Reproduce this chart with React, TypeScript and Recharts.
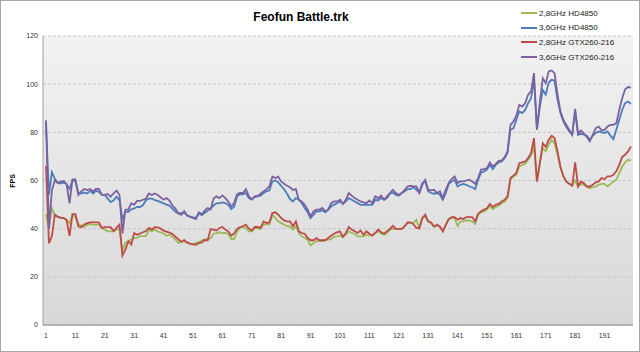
import React from 'react';
import { LineChart, Line, XAxis, YAxis, CartesianGrid, Label } from 'recharts';

// frame numbers 1..200
const FRAMES = Array.from({ length: 200 }, (_, i) => i + 1);
const Y_TICKS = [0, 20, 40, 60, 80, 100, 120];

const HD4850_28 = [
  46, 40, 48.5, 45.4, 44.8, 44.6, 44.3, 43.6, 42.3, 45.4, 45, 42, 41.3, 40.8, 41.6, 42, 41.6, 41.6, 41.6, 40.3,
  39.6, 38.9, 38.9, 38.9, 39.6, 39.8, 31, 34.1, 34.8, 35.5, 36.2, 36.2, 36.9, 36.9, 36.9, 39.6, 38.9, 39.6, 38.9, 38.5,
  38, 37.1, 37.5, 36.6, 35.5, 34.1, 34.4, 34.8, 34.1, 33.7, 33.4, 34.1, 34.4, 35.2, 35.5, 35.5, 36, 37.9, 38.2, 38.5,
  38.2, 38.2, 37.9, 35.7, 35.7, 38.9, 40.3, 40.7, 40.3, 38.9, 38.9, 40.3, 40, 39.9, 41.7, 41.9, 41.7, 45.8, 44.4, 43,
  42.3, 41.7, 41, 41, 39.6, 41, 38.2, 36.8, 36.1, 35.5, 33, 34.1, 34.8, 34.8, 34.8, 35.2, 35.5, 35.7, 36.6, 36.8,
  37.1, 36.6, 37.5, 38.9, 38.2, 37.9, 36.8, 36.8, 36.8, 37.5, 37.1, 37.5, 38.2, 38.9, 37.9, 37.5, 38.2, 39.6, 39.9, 39.9,
  39.9, 39.9, 41, 42.3, 42.3, 42.3, 43.7, 40.2, 44.4, 45.1, 43, 42.3, 40.9, 41.2, 40.7, 38.9, 41.6, 44, 44.4, 44.4,
  41.2, 43, 43, 43.4, 43.4, 43, 42, 45.8, 46.8, 47.2, 47.9, 49.3, 48.1, 49, 49.5, 50.6, 51.3, 52.7, 60.3, 61.7,
  62.4, 65.8, 66.5, 66.9, 68.6, 70.3, 74.1, 59.6, 67.2, 73.4, 72.1, 74.8, 76.9, 75.5, 70.7, 65.1, 61.7, 59.6, 58.6, 57.8,
  60, 57.5, 58.6, 58.2, 57.3, 56.8, 57.3, 57.5, 58.2, 58.6, 58.6, 57.5, 58.6, 59.6, 60.3, 63.1, 65.8, 67.5, 68.6, 68.3,
];

const HD4850_36 = [
  84, 54, 63.5, 60.7, 59, 58.7, 59.3, 58.4, 56.6, 60, 59.7, 55, 54.6, 55, 54.6, 55.7, 54.6, 55.7, 55.3, 54,
  54, 52.5, 51, 51.8, 53.3, 51.8, 44, 47, 47, 48, 48.4, 49, 49, 49.8, 51.8, 52.5, 52.5, 51.8, 51.5, 51,
  50.5, 50, 49.6, 48.3, 47, 46.4, 46.4, 46.6, 45.6, 44.9, 44.6, 44.6, 46.3, 45.6, 46.6, 47.4, 48.4, 49.6, 50.5, 50.6,
  50.9, 50.6, 49.9, 48.1, 49.2, 53.4, 54.3, 54.3, 54.8, 52.7, 52, 53.1, 53.4, 53.7, 54.8, 55.5, 55.9, 59.6, 60, 59.2,
  57.8, 56.4, 54.5, 52.3, 51.3, 52.7, 52, 50.6, 48.6, 46.8, 44.4, 45.8, 47.2, 47.2, 47.6, 46.8, 47.9, 49.2, 49.9, 50.6,
  51.3, 50.3, 51.3, 52.7, 52, 51.3, 50.6, 49.9, 49.9, 49.9, 49.9, 49.9, 52, 51.7, 52.7, 52, 52.7, 54.5, 55, 54,
  53.7, 54.8, 55.5, 56.4, 56.4, 57.2, 56.1, 55, 58.9, 59.6, 55.5, 54.8, 54.5, 54.8, 54.1, 52, 54.8, 58.6, 59.6, 60.3,
  57.5, 58.2, 58.6, 58.2, 57.5, 57.2, 56.4, 60.3, 63.3, 63.8, 64.5, 66.5, 64.7, 66.5, 67.5, 67.9, 69.3, 71.4, 81.1, 81.7,
  85.2, 88.7, 88, 89.3, 92.1, 94.2, 102, 81.1, 90.7, 97.6, 95.6, 100.7, 101.8, 101.5, 93.5, 88, 84.5, 82.2, 80.4, 79,
  88.7, 79, 79.4, 79, 78.6, 76.9, 78.6, 79.7, 80.4, 80, 79.7, 80.4, 78.6, 77.2, 81.1, 85.2, 89.3, 92.1, 92.8, 91.8,
];

const GTX260_28 = [
  66, 34, 36.8, 45.8, 45, 44.5, 44.5, 43.6, 37, 46, 46, 41, 40.6, 41.7, 42.3, 42.6, 42.6, 42.6, 42.6, 40.3,
  40.6, 40.6, 40.6, 39, 40.3, 41.7, 28.8, 31.3, 34.8, 33.4, 38.2, 37.5, 38, 38.5, 39, 40.3, 39.6, 40.6, 40.5, 40,
  39.2, 38.8, 38.4, 37.8, 36.7, 35.6, 34.6, 35.3, 34.3, 33.8, 33.6, 33.3, 34, 34.3, 35.3, 35.2, 39.8, 39.6, 39.2, 40.3,
  40.7, 39.6, 38.9, 37.1, 38, 39.9, 40.7, 41, 41.7, 40, 39.2, 40.7, 40.7, 40.3, 43, 42.3, 42.6, 46.5, 46.8, 45.8,
  44.4, 43.4, 43, 43, 41, 43, 38.9, 38.2, 37.9, 36.1, 35.2, 35.2, 36.1, 35.2, 35.2, 35.2, 36.1, 37.1, 37.9, 38.5,
  38.9, 36.6, 38.2, 40.7, 39.6, 38.9, 38.2, 39.2, 37.5, 38.9, 37.9, 37.1, 38.2, 39.6, 38.5, 37.9, 38.9, 39.9, 41.2, 39.9,
  39.9, 39.9, 41, 42.6, 42.6, 41.9, 40.3, 40.2, 44.4, 45.8, 43, 42.6, 40.9, 41.6, 40.9, 38.9, 41.6, 44, 44.8, 44.8,
  43.7, 44.4, 44, 44.8, 44.8, 44.8, 43, 46.2, 47.2, 47.9, 48.5, 50.3, 49, 49.9, 50.3, 51.3, 52, 53.4, 61, 62,
  63.1, 67.2, 67.5, 67.9, 69.3, 71.4, 77.6, 59.6, 67.2, 75.5, 73.9, 76.9, 78.6, 77.6, 72.1, 65.8, 61.7, 59.6, 58.6, 57.8,
  67.5, 57.5, 59.6, 58.9, 57.5, 57.5, 58.2, 59.2, 59.6, 61, 60.6, 61.7, 61.7, 62.4, 63.8, 66.5, 69.7, 70.7, 72.1, 74.1,
];

const GTX260_36 = [
  85, 40, 56, 60, 59, 59.5, 59.8, 58.5, 50.5, 60.5, 60.5, 54, 55.5, 56.5, 56, 56.5, 55.5, 56.5, 56.5, 54,
  54, 54.4, 53.3, 54.7, 55.8, 54, 38, 47.8, 48, 50.5, 50, 51.5, 51.5, 52, 52.5, 54.6, 54, 54.6, 54, 53,
  52, 52.7, 51.7, 49.6, 48.3, 46.4, 45.7, 47.3, 45.5, 45, 44.5, 44, 46.8, 46, 47.5, 48.6, 48, 52.5, 53.4, 52.7,
  53.8, 52.7, 51.3, 49.2, 50.6, 54.3, 54.8, 54.8, 56.4, 53.4, 52.3, 53.4, 53.6, 54.5, 55.4, 56.4, 57.5, 61.6, 61, 61.6,
  59.6, 58.6, 57.8, 57.2, 56.1, 56.4, 52, 51.3, 49.9, 47.9, 45.1, 47.2, 47.9, 47.9, 48.6, 47.2, 47.9, 50.6, 51.3, 51.3,
  52, 50.3, 52, 54.8, 53.7, 52.7, 52, 51.3, 50.9, 50.6, 51.7, 50.6, 53.4, 52.7, 53.7, 52, 53.4, 54.8, 56.1, 54.8,
  54, 54.8, 56.1, 57.5, 57.8, 57.5, 57.5, 54.8, 58.2, 60.3, 56.2, 55.9, 56.2, 54.8, 55.5, 52.7, 56.2, 59, 60.6, 61.7,
  59, 59.6, 59.6, 60, 60.3, 59.6, 58.6, 61, 64.5, 64.7, 65.1, 67.5, 65.8, 66.9, 68.2, 68.3, 69.7, 72.1, 83.1, 84.5,
  86.9, 91.4, 90.7, 92.1, 95.6, 97, 104.6, 81.1, 92.8, 102.5, 100.4, 105.3, 105.7, 104.6, 95.6, 88.7, 85.2, 83.1, 81, 79,
  89.8, 79.4, 80.8, 79.4, 78, 76.2, 79, 81.7, 82.4, 80.8, 81, 82.4, 83.1, 83.1, 83.8, 89.3, 94.2, 97.9, 98.8, 98.6,
];

const SERIES = [
  { key: 'hd28', name: '2,8GHz HD4850', color: '#9bbb59', values: HD4850_28 },
  { key: 'hd36', name: '3,6GHz HD4850', color: '#4a7ebb', values: HD4850_36 },
  { key: 'gtx28', name: '2,8GHz GTX260-216', color: '#be4b48', values: GTX260_28 },
  { key: 'gtx36', name: '3,6GHz GTX260-216', color: '#7d60a0', values: GTX260_36 },
];

const data = FRAMES.map((frame, i) => {
  const row: Record<string, number> = { frame };
  SERIES.forEach(s => { row[s.key] = s.values[i]; });
  return row;
});

const FONT = '"Liberation Sans", Arial, sans-serif';

const App: React.FC = () => {
  return (
    <div style={{ position: 'absolute', left: 0, top: 0, width: 640, height: 352, boxSizing: 'border-box', border: '1px solid #a6a6a6', background: '#fff', fontFamily: FONT }}>
      <div style={{ position: 'absolute', left: 0, top: 9, width: 600, textAlign: 'center', fontSize: 12, fontWeight: 'bold', color: '#000' }}>
        Feofun Battle.trk
      </div>
      <LineChart width={638} height={350} data={data} margin={{ top: 35, right: 6, bottom: 6, left: 12 }}>
        <defs>
          <linearGradient id="plotBg" x1="0" y1="0" x2="0" y2="1">
            <stop offset="0%" stopColor="#f2f2f2" />
            <stop offset="100%" stopColor="#d8d8d8" />
          </linearGradient>
        </defs>
        <CartesianGrid vertical={false} stroke="#c6c6c6" strokeDasharray="3 2" fill="url(#plotBg)" fillOpacity={1} />
        <XAxis
          dataKey="frame"
          height={20}
          interval={9}
          padding={{ left: 3, right: 2 }}
          tickLine={false}
          tickSize={3}
          tickMargin={5}
          axisLine={{ stroke: '#a0a0a0', strokeWidth: 1.5 }}
          tick={{ fontSize: 7, fill: '#333', fontFamily: FONT }}
        />
        <YAxis
          width={30}
          domain={[0, 120]}
          ticks={Y_TICKS}
          interval={0}
          tickLine={false}
          tickSize={3}
          tickMargin={2}
          axisLine={{ stroke: '#a0a0a0' }}
          tick={{ fontSize: 7, fill: '#333', fontFamily: FONT }}
        >
          <Label
            content={() => (
              <text x={14} y={180} transform="rotate(-90 14 180)" textAnchor="middle" fontSize={7} fontWeight="bold" fontFamily={FONT} fill="#000">
                FPS
              </text>
            )}
          />
        </YAxis>
        {SERIES.map(s => (
          <Line
            key={s.key}
            type="linear"
            dataKey={s.key}
            name={s.name}
            stroke={s.color}
            strokeWidth={1.8}
            dot={false}
            activeDot={false}
            isAnimationActive={false}
          />
        ))}
      </LineChart>
      {/* legend sits over the top right corner of the plot, as in the original */}
      <div style={{ position: 'absolute', left: 520, top: 5, fontSize: 8, color: '#1a1a1a' }}>
        {SERIES.map(s => (
          <div key={s.key} style={{ display: 'flex', alignItems: 'center', height: 14.6 }}>
            <div style={{ width: 16, height: 2, background: s.color, marginRight: 2 }} />
            <span>{s.name}</span>
          </div>
        ))}
      </div>
    </div>
  );
};

export default App;
